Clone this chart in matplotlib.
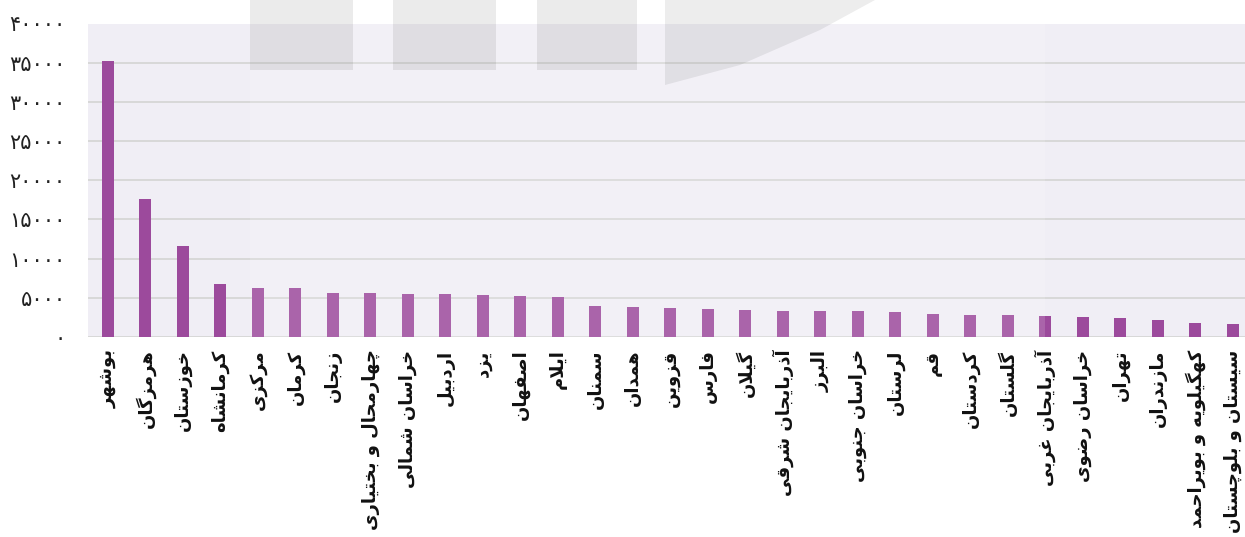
import matplotlib
matplotlib.use("Agg")
import matplotlib.pyplot as plt
from matplotlib.patches import Rectangle, Polygon

# provinces (logical order, Persian) and values
provinces = [
    "بوشهر", "هرمزگان", "خوزستان", "کرمانشاه", "مرکزی", "کرمان", "زنجان",
    "چهارمحال و بختیاری", "خراسان شمالی", "اردبیل", "یزد", "اصفهان", "ایلام",
    "سمنان", "همدان", "قزوین", "فارس", "گیلان", "آذربایجان شرقی", "البرز",
    "خراسان جنوبی", "لرستان", "قم", "کردستان", "گلستان", "آذربایجان غربی",
    "خراسان رضوی", "تهران", "مازندران", "کهگیلویه و بویراحمد",
    "سیستان و بلوچستان",
]
values = [
    35250, 17600, 11600, 6700, 6250, 6250, 5600, 5600, 5550, 5450, 5300,
    5250, 5050, 3950, 3850, 3700, 3550, 3450, 3350, 3300, 3300, 3200, 2950,
    2850, 2800, 2700, 2550, 2450, 2150, 1750, 1600,
]
yticks = [0, 5000, 10000, 15000, 20000, 25000, 30000, 35000, 40000]

# --- minimal Persian shaping (matplotlib has no complex text layout) ---
# letter: (isolated, final, initial, medial); two entries -> right-joining only
FORMS = {
    "ا": (0xFE8D, 0xFE8E), "آ": (0xFE81, 0xFE82),
    "ب": (0xFE8F, 0xFE90, 0xFE91, 0xFE92), "پ": (0xFB56, 0xFB57, 0xFB58, 0xFB59),
    "ت": (0xFE95, 0xFE96, 0xFE97, 0xFE98), "ث": (0xFE99, 0xFE9A, 0xFE9B, 0xFE9C),
    "ج": (0xFE9D, 0xFE9E, 0xFE9F, 0xFEA0), "چ": (0xFB7A, 0xFB7B, 0xFB7C, 0xFB7D),
    "ح": (0xFEA1, 0xFEA2, 0xFEA3, 0xFEA4), "خ": (0xFEA5, 0xFEA6, 0xFEA7, 0xFEA8),
    "د": (0xFEA9, 0xFEAA), "ذ": (0xFEAB, 0xFEAC), "ر": (0xFEAD, 0xFEAE),
    "ز": (0xFEAF, 0xFEB0), "ژ": (0xFB8A, 0xFB8B),
    "س": (0xFEB1, 0xFEB2, 0xFEB3, 0xFEB4), "ش": (0xFEB5, 0xFEB6, 0xFEB7, 0xFEB8),
    "ص": (0xFEB9, 0xFEBA, 0xFEBB, 0xFEBC), "ض": (0xFEBD, 0xFEBE, 0xFEBF, 0xFEC0),
    "ط": (0xFEC1, 0xFEC2, 0xFEC3, 0xFEC4), "ظ": (0xFEC5, 0xFEC6, 0xFEC7, 0xFEC8),
    "ع": (0xFEC9, 0xFECA, 0xFECB, 0xFECC), "غ": (0xFECD, 0xFECE, 0xFECF, 0xFED0),
    "ف": (0xFED1, 0xFED2, 0xFED3, 0xFED4), "ق": (0xFED5, 0xFED6, 0xFED7, 0xFED8),
    "ک": (0xFB8E, 0xFB8F, 0xFB90, 0xFB91), "گ": (0xFB92, 0xFB93, 0xFB94, 0xFB95),
    "ل": (0xFEDD, 0xFEDE, 0xFEDF, 0xFEE0), "م": (0xFEE1, 0xFEE2, 0xFEE3, 0xFEE4),
    "ن": (0xFEE5, 0xFEE6, 0xFEE7, 0xFEE8), "و": (0xFEED, 0xFEEE),
    "ه": (0xFEE9, 0xFEEA, 0xFEEB, 0xFEEC), "ی": (0xFBFC, 0xFBFD, 0xFBFE, 0xFBFF),
}


def shape(word):
    out = []
    i = 0
    n = len(word)
    while i < n:
        c = word[i]
        if c not in FORMS:
            out.append(c)
            i += 1
            continue
        prev = word[i - 1] if i > 0 else ""
        join_prev = prev in FORMS and len(FORMS[prev]) == 4
        # lam-alef ligature
        if c == "ل" and i + 1 < n and word[i + 1] in ("ا", "آ"):
            if word[i + 1] == "ا":
                out.append(chr(0xFEFC if join_prev else 0xFEFB))
            else:
                out.append(chr(0xFEF6 if join_prev else 0xFEF5))
            i += 2
            continue
        nxt = word[i + 1] if i + 1 < n else ""
        f = FORMS[c]
        join_next = len(f) == 4 and nxt in FORMS
        if join_prev and join_next:
            out.append(chr(f[3]))
        elif join_prev:
            out.append(chr(f[1]))
        elif join_next:
            out.append(chr(f[2]))
        else:
            out.append(chr(f[0]))
        i += 1
    return "".join(out)[::-1]


def fa_digits(v):
    return "".join(chr(0x06F0 + int(d)) for d in str(v))


W, H = 1245, 537
fig = plt.figure(figsize=(W / 100, H / 100), dpi=100)
ax = fig.add_axes([88 / W, 1 - 337 / H, (W - 88) / W, (337 - 23.5) / H])
ax.set_facecolor("#f0eef5")

x = list(range(len(provinces)))
ax.bar(x, values, width=0.32, color="#9c4a9c", zorder=2)

ax.set_ylim(0, 40000)
ax.set_xlim(-0.53, 30.32)
ax.set_yticks(yticks)
ax.set_yticklabels([fa_digits(v) for v in yticks], fontsize=15, color="#222222")
ax.grid(axis="y", color="#d8d8d8", linewidth=1.4)
ax.set_axisbelow(True)
ax.tick_params(axis="y", length=0, pad=16)
ax.tick_params(axis="x", length=0, pad=9)
ax.set_xticks(x)
ax.set_xticklabels([shape(p) for p in provinces], rotation=90, va="top",
                   ha="center", fontsize=13, fontweight="bold", color="#111111")
for s in ax.spines.values():
    s.set_visible(False)

# faint watermark pieces
fig.add_artist(Rectangle((250 / W, 1 - 337 / H), (1045 - 250) / W, (337 - 23.5) / H,
                         transform=fig.transFigure, facecolor="white",
                         alpha=0.15, edgecolor="none", zorder=5))
for x0, x1 in [(250, 353), (393, 496), (537, 637)]:
    fig.add_artist(Rectangle((x0 / W, 1 - 70 / H), (x1 - x0) / W, 70 / H,
                             transform=fig.transFigure, facecolor="black",
                             alpha=0.08, edgecolor="none", zorder=6))
pts = [(665, 0), (875, 0), (820, 30), (740, 65), (665, 85)]
fig.add_artist(Polygon([(px / W, 1 - py / H) for px, py in pts], closed=True,
                       transform=fig.transFigure, facecolor="black",
                       alpha=0.07, edgecolor="none", zorder=6))

fig.savefig("out.png", dpi=100)
